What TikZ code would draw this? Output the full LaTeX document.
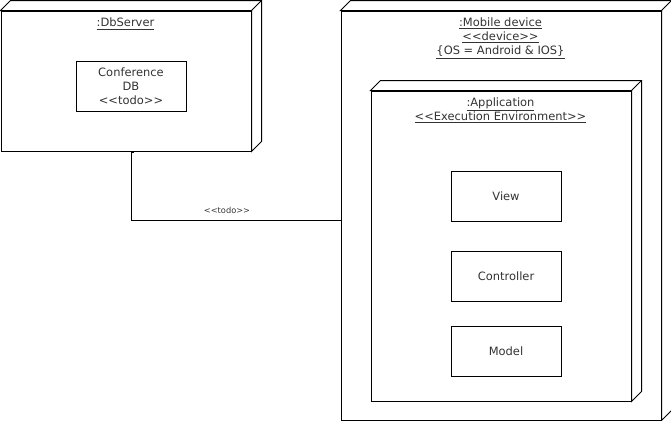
\documentclass[tikz,border=0pt]{standalone}
\usepackage{fontspec}
\setmainfont{DejaVu Sans}
\definecolor{txt}{HTML}{333333}
\tikzset{
  px/.style={x=0.75pt,y=-0.75pt},
  face/.style={draw=black,line width=0.75pt,fill=white,inner sep=0pt,anchor=north west},
  innerbox/.style={draw=black,line width=0.75pt,fill=white,inner sep=0pt,anchor=north west,
    font=\fontsize{8.6pt}{10.5pt}\selectfont,text=txt,align=center},
  lbl/.style={inner sep=0pt,font=\fontsize{8.6pt}{10.5pt}\selectfont,text=txt,align=center},
  small/.style={inner sep=0pt,font=\fontsize{6.2pt}{7.5pt}\selectfont,text=txt},
  edge/.style={draw=black,line width=0.75pt},
}
\newcommand{\depthbox}[1]{%
  \draw[line width=0.75pt,fill=white,line join=miter]
    (#1.north west) -- ++(10,-10) -- ([shift={(10,-10)}]#1.north east)
    -- ([shift={(10,-10)}]#1.south east) -- (#1.south east) -- (#1.north east) -- cycle;
  \draw[line width=0.75pt] (#1.north east) -- ++(10,-10);
}
\begin{document}
\begin{tikzpicture}[px]
\useasboundingbox (0,0) rectangle (671,421);
% DbServer node
\node[face,minimum width=187.5pt,minimum height=105pt] (db) at (0.5,10.5) {};
\depthbox{db}
\node[lbl] (dbl) at (125.5,24) {\underline{:DbServer}};
\node[innerbox,minimum width=82.5pt,minimum height=37.5pt] (cdb) at (75.5,60.5) {Conference\\DB\\{<}{<}todo{>}{>}};
% Mobile device node
\node[face,minimum width=240pt,minimum height=306.75pt] (md) at (340.5,10.5) {};
\depthbox{md}
\node[lbl] (mdl) at (500.5,38.5) {\underline{:Mobile device}\\\underline{{<}{<}device{>}{>}}\\\underline{\{OS = Android \& IOS\}}};
% Application node
\node[face,minimum width=195pt,minimum height=232.5pt] (app) at (370.5,90.5) {};
\depthbox{app}
\node[lbl] (appl) at (500.5,110.5) {\underline{:Application}\\\underline{{<}{<}Execution Environment{>}{>}}};
% Components
\node[innerbox,minimum width=82.5pt,minimum height=37.5pt] (view) at (450.5,170.5) {};
\node[lbl] at (view.center) {View};
\node[innerbox,minimum width=82.5pt,minimum height=37.5pt] (ctrl) at (450.5,250.5) {};
\node[lbl] at (ctrl.center) {Controller};
\node[innerbox,minimum width=82.5pt,minimum height=37.5pt] (model) at (450.5,325.5) {};
\node[lbl] at (model.center) {Model};
% Connector
\coordinate (c0) at (134,152.5);
\coordinate (c1) at (131.5,152.5);
\draw[edge] (c0) -- (c1) -- (131.5,220.5) -- (md.west |- 0,220.5);
\node[small] (el) at (227,210) {{<}{<}todo{>}{>}};
\end{tikzpicture}
\end{document}
